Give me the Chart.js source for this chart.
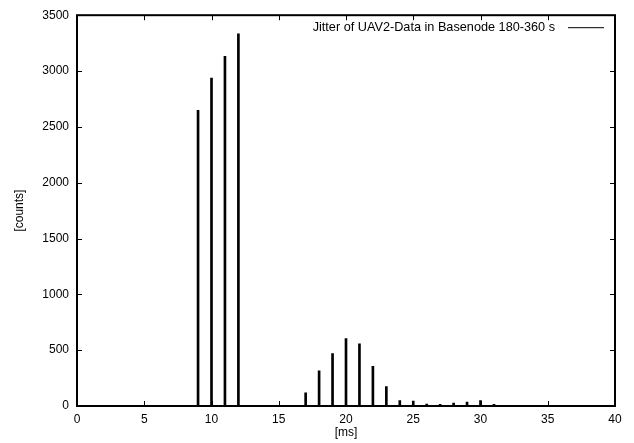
<!DOCTYPE html>
<html>
<head>
<meta charset="utf-8">
<script src="https://cdn.jsdelivr.net/npm/chart.js@4.4.1/dist/chart.umd.min.js"></script>
<style>
  html, body { margin: 0; padding: 0; background: #fff; }
</style>
</head>
<body>
<canvas id="jitterChart" width="634" height="443"></canvas>
<script>
// jitter bins [ms] and their counts
const jitterMs = [9, 10, 11, 12, 17, 18, 19, 20, 21, 22, 23, 24, 25, 26, 27, 28, 29, 30, 31];
const counts = [2647, 2937, 3131, 3334, 119, 314, 469, 603, 556, 356, 173, 48, 45, 18, 15, 27, 36, 48, 15];
const xRange = [0, 40];
const yRange = [0, 3500];

const FONT = 'Liberation Sans, Arial, Helvetica, sans-serif';

/**
 * gnuplot style frame: border on all four sides, ticks pointing inward (mirrored)
 */
const frameTicks = {
  id: 'frameTicks',
  afterDatasetsDraw(chart) {
    const { ctx, chartArea: a, scales: { x, y } } = chart;
    ctx.save();
    ctx.strokeStyle = '#000';
    ctx.lineWidth = 1;
    ctx.beginPath();
    x.ticks.forEach(t => {
      const px = Math.round(x.getPixelForValue(t.value)) + 0.5;
      ctx.moveTo(px, a.bottom); ctx.lineTo(px, a.bottom - 5);
      ctx.moveTo(px, a.top); ctx.lineTo(px, a.top + 5);
    });
    y.ticks.forEach(t => {
      const py = Math.round(y.getPixelForValue(t.value)) + 0.5;
      ctx.moveTo(a.left, py); ctx.lineTo(a.left + 5, py);
      ctx.moveTo(a.right, py); ctx.lineTo(a.right - 5, py);
    });
    ctx.stroke();
    ctx.lineWidth = 2;
    ctx.strokeRect(a.left, a.top, a.right - a.left, a.bottom - a.top);

    // key in the top right corner: title text, then a line sample
    const ds = chart.data.datasets[0];
    const lineEnd = a.right - 11;
    const lineStart = lineEnd - 36;
    const ky = a.top + 12.5;
    ctx.font = '12.7px ' + FONT;
    ctx.fillStyle = '#000';
    ctx.textAlign = 'right';
    ctx.textBaseline = 'middle';
    ctx.fillText(ds.label, lineStart - 13, ky);
    ctx.lineWidth = 1;
    ctx.beginPath();
    ctx.moveTo(lineStart, ky);
    ctx.lineTo(lineEnd, ky);
    ctx.stroke();
    ctx.restore();
  }
};

new Chart(document.getElementById('jitterChart').getContext('2d'), {
  type: 'bar',
  data: {
    datasets: [{
      label: 'Jitter of UAV2-Data in Basenode 180-360 s',
      data: jitterMs.map((ms, i) => ({ x: ms, y: counts[i] })),
      backgroundColor: '#000',
      borderWidth: 0,
      barThickness: 2
    }]
  },
  options: {
    responsive: false,
    animation: false,
    layout: { padding: { top: 15, right: 19, left: 0, bottom: 0 } },
    scales: {
      x: {
        type: 'linear',
        offset: false,
        min: xRange[0],
        max: xRange[1],
        grid: { display: false, drawTicks: false, offset: false },
        border: { display: false },
        ticks: { stepSize: 5, color: '#000', font: { family: FONT, size: 12 }, padding: 6, maxRotation: 0 },
        title: { display: true, text: '[ms]', color: '#000', font: { family: FONT, size: 12 }, padding: { top: 0, bottom: 3 } },
        afterFit(scale) { scale.height = 37; }
      },
      y: {
        min: yRange[0],
        max: yRange[1],
        grid: { display: false, drawTicks: false },
        border: { display: false },
        ticks: {
          stepSize: 500, color: '#000', font: { family: FONT, size: 12 }, padding: 8,
          callback: function(value) {
            return String(value);
          }
        },
        title: { display: true, text: '[counts]', color: '#000', font: { family: FONT, size: 12 }, padding: { top: 12, bottom: 0 } },
        afterFit(scale) { scale.width = 77; }
      }
    },
    plugins: {
      legend: { display: false },
      tooltip: { enabled: false }
    }
  },
  plugins: [frameTicks]
});
</script>
</body>
</html>
